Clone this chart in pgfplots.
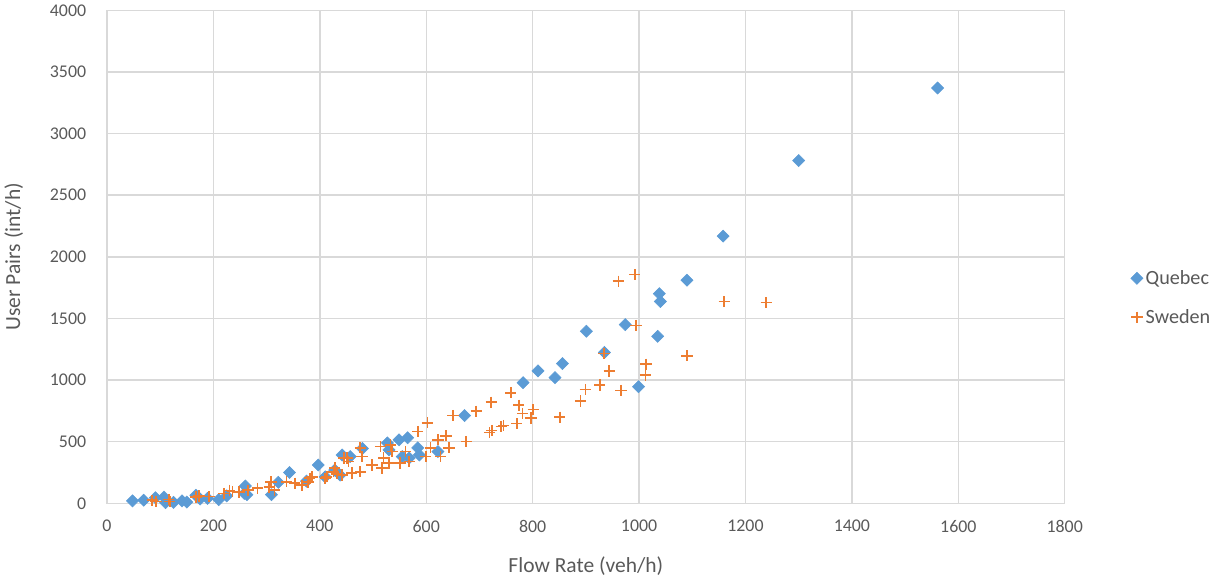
\documentclass[border=0pt]{standalone}
\usepackage{fontspec}
\setmainfont{Carlito}
\usepackage{pgfplots}
\pgfplotsset{compat=1.18}
\definecolor{qblue}{HTML}{5B9BD5}
\definecolor{sorange}{HTML}{ED7D31}
\definecolor{gridgray}{HTML}{D9D9D9}
\definecolor{textgray}{HTML}{595959}
\begin{document}
\begin{tikzpicture}
\begin{axis}[
    scale only axis,
    width=712.5pt, height=366.75pt,
    xmin=0, xmax=1800, ymin=0, ymax=4000,
    xtick distance=200, ytick distance=500,
    grid=major,
    major grid style={gridgray, line width=1.1pt},
    axis line style={gridgray, line width=1.1pt},
    tick style={draw=none},
    ticklabel style={font=\fontsize{13.3}{15}\selectfont, text=textgray},
    yticklabel style={xshift=-12pt},
    xticklabel style={yshift=-9pt},
    /pgf/number format/assume math mode=true,
    /pgf/number format/1000 sep={},
    xlabel={Flow Rate (veh/h)},
    ylabel={User Pairs (int/h)},
    label style={font=\fontsize{16}{18}\selectfont, text=textgray},
    xlabel style={yshift=-11pt},
    ylabel style={yshift=13pt},
    legend style={draw=none, at={(1,0.417)}, anchor=west, xshift=46pt,
        font=\fontsize{15}{17}\selectfont, text=textgray, row sep=13pt},
    legend cell align=left,
    clip=false,
]
\addplot[only marks, mark=square*, mark size=3.2pt, color=qblue,
    mark options={rotate=45, fill=qblue, draw=qblue}] coordinates {
(48,20) (69,25) (91,45) (107,50) (110,5) (125,8) (141,20) (150,10)
(167,65) (175,35) (189,40) (210,30) (225,60) (258,80) (260,140)
(263,70) (309,70) (322,170) (343,250) (375,180) (397,311) (410,215)
(428,270) (438,229) (442,392) (457,379) (480,445) (527,490) (530,433)
(549,515) (565,532) (555,379) (568,368) (584,450) (587,392) (622,420)
(672,712) (782,979) (810,1074) (842,1020) (856,1134) (901,1396)
(935,1224) (974,1450) (999,946) (1035,1355) (1038,1701) (1040,1638)
(1090,1810) (1158,2168) (1300,2781) (1561,3370)
};
\addlegendentry{Quebec}
\addplot[only marks, mark=+, mark size=4.2pt, color=sorange,
    mark options={line width=1.2pt}] coordinates {
(85,25) (92,15) (116,30) (118,15) (167,50) (173,60) (192,55) (220,80)
(230,105) (236,95) (248,92) (265,106) (283,122) (305,130) (308,175)
(315,106) (337,175) (353,163) (366,147) (378,174) (381,204) (385,215)
(410,204) (413,215) (426,256) (428,286) (432,240) (442,229) (445,368)
(451,368) (454,338) (460,245) (476,450) (479,379) (476,256) (498,311)
(514,461) (517,286) (520,368) (533,474) (536,420) (530,327) (551,327)
(568,338) (561,420) (584,583) (602,654) (599,379) (608,450) (622,515)
(637,548) (643,450) (627,379) (650,712) (675,501) (694,747) (722,820)
(719,573) (723,590) (741,624) (745,632) (759,897) (770,646) (774,796)
(781,728) (797,693) (801,761) (851,698) (890,829) (899,924) (926,960)
(934,1216) (944,1074) (961,1802) (966,916) (992,1857) (994,1442)
(1012,1039) (1013,1129) (1090,1197) (1160,1636) (1239,1628)
};
\addlegendentry{Sweden}
\end{axis}
\end{tikzpicture}
\end{document}
